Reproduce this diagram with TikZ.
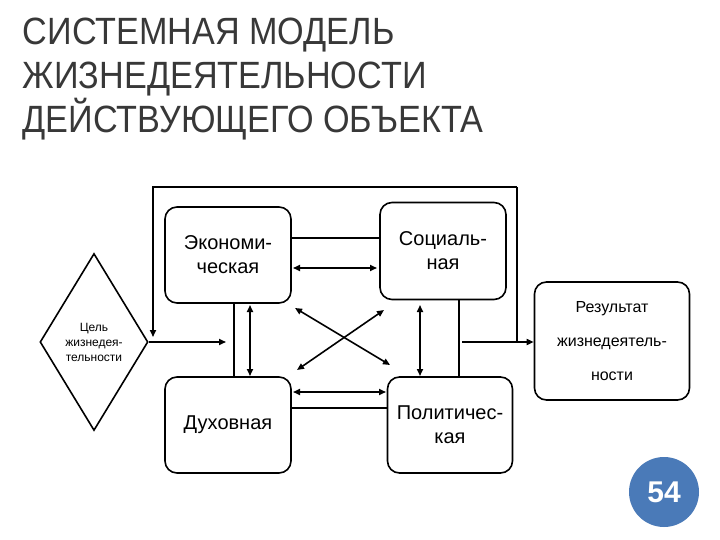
\documentclass[tikz,border=0pt]{standalone}
\usepackage{fontspec}
\setmainfont{Liberation Sans}
\usetikzlibrary{arrows.meta,shapes.geometric}
\begin{document}
\begin{tikzpicture}[x=1pt,y=-1pt,line width=1.6pt,
  box/.style={draw,rounded corners=12pt,align=center,font=\fontsize{20}{24}\selectfont,inner sep=0pt},
  arr/.style={-{Triangle[length=7pt,width=6pt]}},
  darr/.style={{Triangle[length=7pt,width=6pt]}-{Triangle[length=7pt,width=6pt]}},
  title/.style={anchor=base west,inner sep=0pt,text=black!78,font=\fontsize{38}{40}\selectfont,xscale=0.9}]
\useasboundingbox (0,0) rectangle (720,540);
\node[title] (t1) at (22,45) {СИСТЕМНАЯ МОДЕЛЬ};
\node[title] (t2) at (22,89) {ЖИЗНЕДЕЯТЕЛЬНОСТИ};
\node[title] (t3) at (22,133) {ДЕЙСТВУЮЩЕГО ОБЪЕКТА};
\node[box,minimum width=126pt,minimum height=96pt] (e) at (228,255) {Экономи-\\ческая};
\node[box,minimum width=126pt,minimum height=97pt] (s) at (443,251) {Социаль-\\ная};
\node[box,minimum width=126pt,minimum height=96pt] (d) at (228,425) {Духовная};
\node[box,minimum width=125pt,minimum height=96pt] (p) at (450,425) {Политичес-\\кая};
\node[box,minimum width=155pt,minimum height=118pt,font=\fontsize{16}{34}\selectfont] (r) at (612,341) {Результат\\жизнедеятель-\\ности};
\node[draw,diamond,minimum width=108pt,minimum height=177pt,inner sep=0pt,align=center,font=\fontsize{12}{15}\selectfont] (g) at (94,342) {Цель\\жизнедея-\\тельности};
% frame
\coordinate (fl) at (153,187);
\coordinate (fr) at (517,187);
\coordinate (fla) at (153,337);
\coordinate (fra) at (517,342);
\draw[arr] (fr) -- (fl) -- (fla);
\draw (fr) -- (fra);
% main flow
\coordinate (ma) at (226,342);
\draw[arr] (g.east) -- (ma);
\draw (e.south -| 234,0) -- (d.north -| 234,0);
\draw[darr] (250,305) -- (250,376);
\draw (s.south -| 459,0) -- (p.north -| 459,0);
\draw[darr] (420,305) -- (420,376);
\draw[arr] (462,342) -- (r.west |- 0,342);
% horizontal links
\draw (e.east |- 0,238) -- (s.west |- 0,238);
\draw[darr] (293,268) -- (377,268);
\draw[darr] (293,392) -- (386,392);
\draw (d.east |- 0,408) -- (p.west |- 0,408);
% cross
\draw[darr] (295,308) -- (390,365);
\draw[darr] (384,310) -- (297,370);
% badge
\node[circle,fill=white,minimum size=76pt] (c0) at (664,492) {};
\node[circle,fill=blue!45!cyan!40!black!100,fill={rgb,255:red,74;green,122;blue,184},minimum size=70pt,text=white,font=\bfseries\fontsize{30}{30}\selectfont] (c) at (664,492) {54};
\end{tikzpicture}
\end{document}
